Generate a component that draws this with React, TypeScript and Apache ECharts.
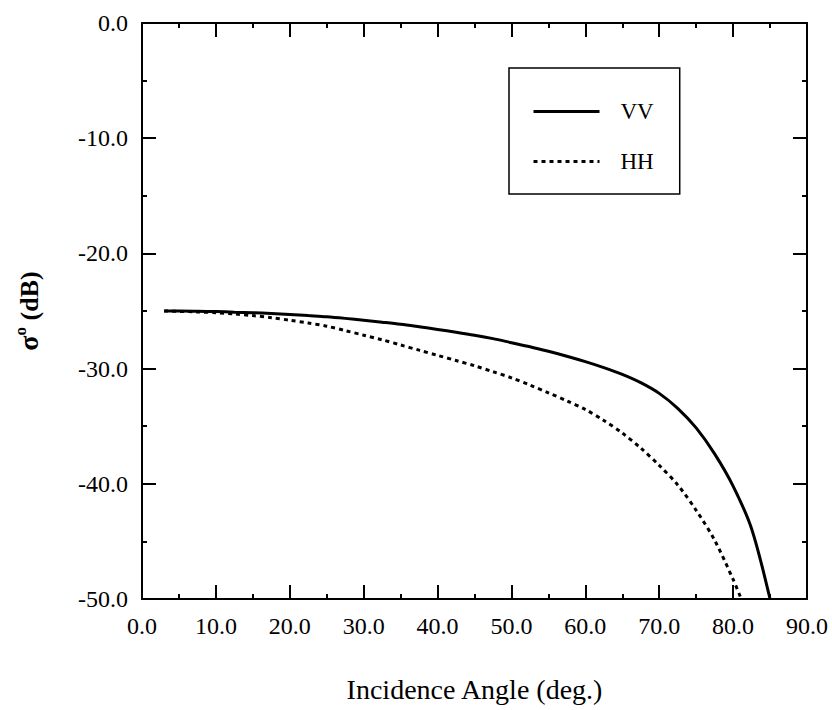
import React, { useEffect, useRef } from "react";
import * as echarts from "echarts";

const FONT = "'Liberation Serif', 'Times New Roman', serif";

const angleVV = [3, 5, 7.5, 10, 12.5, 15, 17.5, 20, 22.5, 25, 27.5, 30, 32.5, 35, 37.5, 40, 42.5, 45, 47.5, 50, 52.5, 55, 57.5, 60, 62.5, 65, 67.5, 70, 72.5, 75, 77.5, 80, 82.5, 85];
const sigmaVV = [-25.0, -25.0, -25.02, -25.05, -25.1, -25.15, -25.22, -25.3, -25.4, -25.5, -25.64, -25.8, -25.97, -26.15, -26.37, -26.6, -26.84, -27.1, -27.4, -27.75, -28.1, -28.5, -28.93, -29.4, -29.92, -30.5, -31.22, -32.15, -33.45, -35.15, -37.4, -40.2, -43.9, -50.0];

const angleHH = [3, 5, 7.5, 10, 12.5, 15, 17.5, 20, 22.5, 25, 27.5, 30, 32.5, 35, 37.5, 40, 42.5, 45, 47.5, 50, 52.5, 55, 57.5, 60, 62.5, 65, 67.5, 70, 72.5, 75, 77.5, 80, 81.1];
const sigmaHH = [-25.0, -25.03, -25.08, -25.15, -25.26, -25.4, -25.58, -25.8, -26.04, -26.32, -26.7, -27.1, -27.5, -27.95, -28.4, -28.85, -29.3, -29.75, -30.27, -30.8, -31.43, -32.1, -32.8, -33.55, -34.5, -35.6, -36.9, -38.4, -40.1, -42.3, -44.9, -48.3, -50.0];

const xTicks = { min: 0, max: 90, interval: 10 };
const yTicks = { min: -50, max: 0, interval: 10 };

const axisBase = {
  axisLine: { show: true, onZero: false, lineStyle: { color: "#000", width: 2 } },
  axisTick: { show: true, inside: true, length: 14, lineStyle: { color: "#000", width: 2 } },
  minorTick: { show: true, splitNumber: 2, length: 5, lineStyle: { color: "#000", width: 2 } },
  splitLine: { show: false },
};

export default function App() {
  const ref = useRef<HTMLDivElement>(null);
  useEffect(() => {
    const chart = echarts.init(ref.current!, null, { renderer: "svg" });
    chart.setOption({
      animation: false,
      backgroundColor: "#fff",
      grid: { left: 142, right: 25, top: 23, bottom: 111, containLabel: false },
      legend: {
        orient: "vertical",
        left: 509,
        top: 68,
        borderColor: "#000",
        borderWidth: 1.5,
        padding: [32, 26, 21, 23],
        itemWidth: 66,
        itemHeight: 14,
        itemGap: 27,
        lineStyle: { width: 3 },
        itemStyle: { color: "transparent", borderColor: "transparent", borderWidth: 0, opacity: 0 },
        textStyle: { fontFamily: FONT, fontSize: 23, color: "#000", padding: [0, 0, 0, 16] },
        data: ["VV", "HH"],
      },
      xAxis: [
        {
          type: "value",
          ...xTicks,
          ...axisBase,
          position: "bottom",
          axisLabel: {
            fontFamily: FONT,
            fontSize: 24,
            color: "#000",
            margin: 15,
            formatter: (v: number) => v.toFixed(1),
          },
          name: "Incidence Angle (deg.)",
          nameLocation: "middle",
          nameGap: 76,
          nameTextStyle: { fontFamily: FONT, fontSize: 28, color: "#000" },
        },
        {
          type: "value",
          ...xTicks,
          ...axisBase,
          position: "top",
          axisLabel: { show: false },
        },
      ],
      yAxis: [
        {
          type: "value",
          ...yTicks,
          ...axisBase,
          position: "left",
          axisLabel: {
            fontFamily: FONT,
            fontSize: 24,
            color: "#000",
            margin: 14,
            formatter: (v: number) => v.toFixed(1),
          },
          name: "{a|σ}{b|o}{c| (dB)}",
          nameLocation: "middle",
          nameGap: 100,
          nameTextStyle: {
            fontFamily: FONT,
            fontSize: 26,
            fontWeight: "bold",
            color: "#000",
            rich: {
              a: { fontFamily: FONT, fontSize: 28, fontWeight: "bold", color: "#000", lineHeight: 30, verticalAlign: "bottom" },
              b: { fontFamily: FONT, fontSize: 17, fontWeight: "bold", color: "#000", lineHeight: 14, verticalAlign: "top" },
              c: { fontFamily: FONT, fontSize: 26, fontWeight: "bold", color: "#000", lineHeight: 30, verticalAlign: "bottom" },
            },
          },
        },
        {
          type: "value",
          ...yTicks,
          ...axisBase,
          position: "right",
          axisLabel: { show: false },
        },
      ],
      series: [
        {
          name: "VV",
          type: "line",
          xAxisIndex: 0,
          yAxisIndex: 0,
          smooth: 0.3,
          symbol: "none",
          itemStyle: { color: "#000" },
          lineStyle: { color: "#000", width: 3, type: "solid" },
          data: angleVV.map((a, i) => [a, sigmaVV[i]]),
        },
        {
          name: "HH",
          type: "line",
          xAxisIndex: 0,
          yAxisIndex: 0,
          smooth: 0.3,
          symbol: "none",
          itemStyle: { color: "#000" },
          lineStyle: { color: "#000", width: 3, type: [4, 4] },
          data: angleHH.map((a, i) => [a, sigmaHH[i]]),
        },
      ],
    });
    return () => chart.dispose();
  }, []);
  return (
    <div
      ref={ref}
      style={{ position: "fixed", left: 0, top: 0, width: 832, height: 710, background: "#fff" }}
    />
  );
}
